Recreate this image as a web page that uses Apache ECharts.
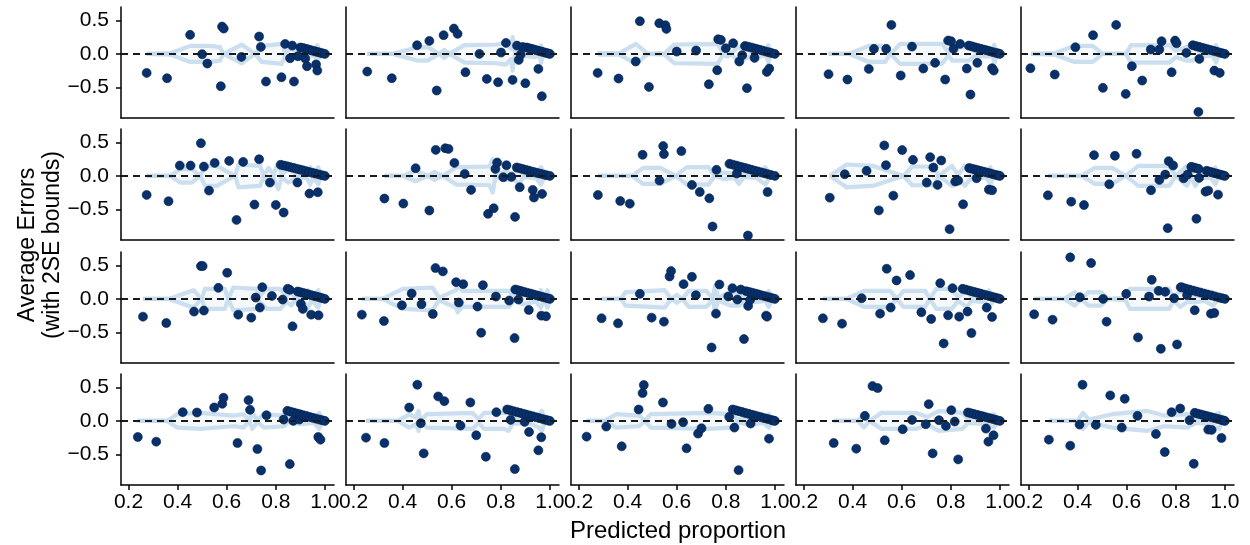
<!DOCTYPE html>
<html>
<head>
<meta charset="utf-8">
<script src="https://cdn.jsdelivr.net/npm/echarts@6/dist/echarts.min.js"></script>
<style>
html,body{margin:0;padding:0;background:#fff;}
#chart{width:1250px;height:545px;}
</style>
</head>
<body>
<div id="chart"></div>
<script>
// ---------------- DATA ----------------
const xTicks = [0.2, 0.4, 0.6, 0.8, 1.0];
const yTicks = [-0.5, 0.0, 0.5];
const xTitle = 'Predicted proportion';
const yTitle1 = 'Average Errors';
const yTitle2 = '(with 2SE bounds)';

// binned average errors per panel: [predicted proportion, average error]
const pts00 = [[0.274,-0.284],[0.357,-0.363],[0.451,0.284],[0.5,-0.005],[0.521,-0.144],[0.576,-0.483],[0.581,0.408],[0.588,0.378],[0.66,-0.045],[0.732,0.259],[0.739,0.104],[0.76,-0.413],[0.823,-0.348],[0.838,0.149],[0.858,-0.065],[0.867,0.124],[0.874,-0.413],[0.89,-0.035],[0.92,-0.07],[0.927,-0.184],[0.964,-0.159],[0.969,-0.249],[0.9,0.095],[0.91,0.088],[0.92,0.078],[0.93,0.068],[0.94,0.058],[0.95,0.048],[0.96,0.038],[0.97,0.028],[0.98,0.018],[0.99,0.008],[1.0,0.0]];
const pts01 = [[0.256,-0.264],[0.356,-0.363],[0.459,0.129],[0.509,0.194],[0.539,-0.547],[0.567,0.279],[0.609,0.378],[0.624,0.299],[0.656,-0.274],[0.713,0.0],[0.743,-0.373],[0.789,-0.423],[0.801,0.02],[0.821,0.164],[0.848,-0.388],[0.866,0.124],[0.873,-0.09],[0.881,-0.01],[0.889,0.104],[0.9,-0.438],[0.953,-0.224],[0.967,-0.632],[0.905,0.095],[0.915,0.085],[0.925,0.075],[0.935,0.065],[0.945,0.055],[0.955,0.045],[0.965,0.035],[0.975,0.025],[0.985,0.015],[0.993,0.007],[1.0,0.0]];
const pts02 = [[0.278,-0.284],[0.363,-0.368],[0.433,-0.114],[0.45,0.488],[0.487,-0.493],[0.529,0.458],[0.554,0.428],[0.558,0.373],[0.6,0.035],[0.679,0.05],[0.731,-0.453],[0.765,-0.244],[0.769,0.219],[0.78,0.209],[0.8,0.085],[0.83,0.159],[0.855,-0.114],[0.867,-0.02],[0.886,-0.512],[0.917,-0.06],[0.967,-0.269],[0.977,-0.219],[0.878,0.118],[0.89,0.108],[0.902,0.097],[0.914,0.085],[0.926,0.073],[0.938,0.061],[0.95,0.049],[0.962,0.037],[0.974,0.025],[0.986,0.013],[1.0,0.0]];
const pts03 = [[0.302,-0.303],[0.379,-0.383],[0.466,-0.224],[0.487,0.075],[0.537,0.075],[0.558,0.433],[0.596,-0.323],[0.642,0.109],[0.688,-0.219],[0.736,-0.134],[0.777,-0.383],[0.789,0.199],[0.801,0.189],[0.811,0.075],[0.838,0.149],[0.865,-0.219],[0.88,-0.607],[0.908,-0.134],[0.968,-0.214],[0.975,-0.249],[0.873,0.124],[0.885,0.113],[0.897,0.101],[0.909,0.089],[0.921,0.077],[0.933,0.066],[0.945,0.054],[0.957,0.042],[0.969,0.03],[0.981,0.018],[0.992,0.008],[1.0,0.0]];
const pts04 = [[0.208,-0.214],[0.307,-0.308],[0.391,0.1],[0.463,0.279],[0.503,-0.507],[0.557,0.433],[0.596,-0.597],[0.621,-0.184],[0.663,-0.398],[0.698,0.065],[0.733,0.065],[0.742,0.189],[0.783,-0.274],[0.797,0.199],[0.803,0.159],[0.843,0.015],[0.896,-0.075],[0.892,-0.866],[0.957,-0.249],[0.979,-0.284],[0.869,0.13],[0.881,0.118],[0.893,0.106],[0.905,0.094],[0.917,0.082],[0.929,0.07],[0.941,0.058],[0.953,0.046],[0.965,0.034],[0.977,0.022],[0.989,0.01],[1.0,0.0]];
const pts10 = [[0.274,-0.284],[0.363,-0.378],[0.409,0.154],[0.453,0.154],[0.495,0.488],[0.507,0.139],[0.528,-0.219],[0.551,0.194],[0.61,0.224],[0.64,-0.657],[0.667,0.209],[0.713,-0.428],[0.732,0.249],[0.776,-0.1],[0.8,-0.433],[0.832,-0.547],[0.888,-0.1],[0.937,-0.264],[0.971,-0.244],[0.82,0.165],[0.832,0.155],[0.845,0.145],[0.858,0.132],[0.871,0.12],[0.884,0.108],[0.897,0.096],[0.91,0.083],[0.923,0.071],[0.936,0.058],[0.949,0.046],[0.962,0.034],[0.975,0.022],[0.988,0.01],[1.0,0.0]];
const pts11 = [[0.326,-0.338],[0.403,-0.413],[0.453,0.114],[0.509,-0.517],[0.535,0.388],[0.574,0.413],[0.587,0.403],[0.611,0.194],[0.653,0.03],[0.679,-0.209],[0.748,-0.567],[0.771,-0.483],[0.778,0.104],[0.785,0.199],[0.81,-0.02],[0.823,0.159],[0.843,-0.015],[0.858,-0.612],[0.877,-0.169],[0.93,-0.209],[0.935,-0.323],[0.968,-0.269],[0.865,0.125],[0.877,0.113],[0.889,0.102],[0.901,0.09],[0.913,0.079],[0.925,0.067],[0.937,0.056],[0.949,0.044],[0.961,0.033],[0.973,0.022],[0.986,0.01],[1.0,0.0]];
const pts12 = [[0.279,-0.285],[0.37,-0.375],[0.409,-0.415],[0.461,0.315],[0.53,-0.07],[0.545,0.445],[0.548,0.325],[0.619,0.37],[0.662,-0.135],[0.694,-0.24],[0.733,-0.335],[0.746,-0.755],[0.762,0.09],[0.845,0.035],[0.89,-0.89],[0.97,-0.24],[0.815,0.18],[0.828,0.168],[0.841,0.155],[0.854,0.142],[0.867,0.129],[0.88,0.116],[0.893,0.103],[0.906,0.09],[0.919,0.077],[0.932,0.064],[0.945,0.051],[0.958,0.038],[0.971,0.026],[0.984,0.013],[1.0,0.0]];
const pts13 = [[0.307,-0.325],[0.368,0.025],[0.457,0.075],[0.507,-0.515],[0.529,0.455],[0.536,0.16],[0.566,-0.295],[0.602,0.385],[0.646,0.24],[0.702,-0.1],[0.716,0.28],[0.729,0.125],[0.746,-0.135],[0.761,0.23],[0.795,-0.795],[0.818,-0.085],[0.83,-0.07],[0.85,-0.425],[0.905,-0.035],[0.955,-0.205],[0.968,-0.215],[0.875,0.118],[0.887,0.107],[0.899,0.095],[0.911,0.084],[0.923,0.072],[0.935,0.061],[0.947,0.049],[0.959,0.038],[0.971,0.026],[0.983,0.015],[0.993,0.006],[1.0,0.0]];
const pts14 = [[0.279,-0.29],[0.374,-0.385],[0.426,-0.435],[0.467,0.31],[0.529,-0.125],[0.552,0.3],[0.64,0.33],[0.699,-0.215],[0.733,-0.06],[0.757,0.02],[0.767,-0.78],[0.771,0.22],[0.789,0.155],[0.832,-0.035],[0.848,0.02],[0.884,-0.64],[0.895,-0.03],[0.921,-0.235],[0.932,-0.22],[0.972,-0.28],[0.863,0.135],[0.873,0.125],[0.883,0.115],[0.893,0.105],[0.925,0.075],[0.935,0.065],[0.945,0.055],[0.955,0.045],[0.965,0.035],[0.975,0.025],[0.985,0.015],[0.993,0.007],[1.0,0.0]];
const pts20 = [[0.259,-0.265],[0.354,-0.36],[0.467,-0.19],[0.495,0.49],[0.502,0.49],[0.507,-0.175],[0.566,0.165],[0.602,0.39],[0.647,-0.235],[0.7,-0.28],[0.718,0.02],[0.735,-0.13],[0.745,0.175],[0.784,0.045],[0.828,-0.01],[0.848,0.15],[0.857,0.135],[0.868,-0.41],[0.902,-0.075],[0.91,-0.15],[0.944,-0.235],[0.974,-0.245],[0.889,0.11],[0.9,0.1],[0.911,0.089],[0.922,0.078],[0.933,0.067],[0.944,0.056],[0.955,0.045],[0.966,0.034],[0.977,0.023],[0.988,0.012],[1.0,0.0]];
const pts21 = [[0.234,-0.235],[0.324,-0.33],[0.397,-0.095],[0.437,0.08],[0.477,-0.08],[0.523,-0.225],[0.534,0.46],[0.564,0.41],[0.618,0.25],[0.629,-0.055],[0.647,0.22],[0.705,-0.115],[0.72,-0.505],[0.727,0.205],[0.78,0.035],[0.834,-0.025],[0.856,-0.585],[0.872,-0.01],[0.914,-0.165],[0.965,-0.25],[0.984,-0.26],[0.859,0.14],[0.871,0.128],[0.883,0.116],[0.895,0.104],[0.907,0.092],[0.919,0.08],[0.931,0.068],[0.943,0.056],[0.955,0.044],[0.967,0.032],[0.979,0.02],[0.99,0.009],[1.0,0.0]];
const pts22 = [[0.294,-0.29],[0.361,-0.365],[0.45,0.075],[0.498,-0.28],[0.548,-0.34],[0.571,0.335],[0.577,0.415],[0.628,0.22],[0.662,0.33],[0.678,0.055],[0.742,-0.725],[0.76,-0.22],[0.774,0.215],[0.81,0.035],[0.827,0.16],[0.847,-0.01],[0.861,0.14],[0.874,-0.6],[0.891,-0.105],[0.899,-0.015],[0.964,-0.25],[0.968,-0.265],[0.883,0.115],[0.895,0.104],[0.907,0.092],[0.919,0.08],[0.931,0.068],[0.943,0.056],[0.955,0.045],[0.967,0.033],[0.979,0.021],[0.99,0.01],[1.0,0.0]];
const pts23 = [[0.279,-0.29],[0.357,-0.37],[0.437,0.01],[0.512,-0.22],[0.539,0.45],[0.555,-0.13],[0.579,0.275],[0.634,0.355],[0.68,-0.2],[0.72,-0.3],[0.757,0.235],[0.771,-0.665],[0.789,-0.245],[0.807,0.16],[0.834,-0.265],[0.868,-0.19],[0.884,-0.51],[0.946,-0.13],[0.968,-0.27],[0.848,0.15],[0.86,0.139],[0.872,0.127],[0.884,0.115],[0.896,0.103],[0.908,0.091],[0.92,0.079],[0.932,0.067],[0.944,0.055],[0.956,0.043],[0.968,0.031],[0.98,0.019],[0.991,0.008],[1.0,0.0]];
const pts24 = [[0.223,-0.23],[0.298,-0.31],[0.37,0.62],[0.409,0.025],[0.455,0.535],[0.504,0.0],[0.518,-0.34],[0.598,0.075],[0.646,-0.575],[0.691,0.035],[0.702,0.285],[0.73,0.12],[0.739,-0.745],[0.757,0.105],[0.793,0.01],[0.805,-0.68],[0.846,0.055],[0.877,-0.17],[0.943,-0.22],[0.957,-0.21],[0.82,0.175],[0.826,0.17],[0.84,0.155],[0.855,0.14],[0.87,0.125],[0.885,0.11],[0.9,0.095],[0.915,0.08],[0.93,0.066],[0.945,0.051],[0.96,0.037],[0.975,0.022],[0.988,0.01],[1.0,0.0]];
const pts30 = [[0.238,-0.24],[0.313,-0.31],[0.421,0.13],[0.479,0.125],[0.549,0.2],[0.582,0.255],[0.587,0.345],[0.644,-0.33],[0.689,0.31],[0.695,0.165],[0.725,-0.42],[0.74,-0.74],[0.762,0.085],[0.832,0.02],[0.857,-0.645],[0.871,0.0],[0.896,0.02],[0.973,-0.24],[0.982,-0.28],[0.847,0.15],[0.86,0.137],[0.873,0.124],[0.886,0.111],[0.899,0.098],[0.912,0.085],[0.925,0.072],[0.938,0.059],[0.951,0.046],[0.964,0.033],[0.977,0.02],[0.989,0.009],[1.0,0.0]];
const pts31 = [[0.251,-0.25],[0.326,-0.33],[0.427,0.2],[0.46,0.54],[0.474,-0.035],[0.486,-0.485],[0.545,0.365],[0.57,0.295],[0.636,-0.07],[0.676,0.275],[0.7,-0.215],[0.739,-0.535],[0.782,0.13],[0.84,0.015],[0.857,-0.72],[0.897,-0.015],[0.915,-0.165],[0.953,-0.44],[0.965,-0.245],[0.826,0.17],[0.839,0.158],[0.852,0.145],[0.865,0.132],[0.878,0.12],[0.891,0.107],[0.904,0.094],[0.917,0.081],[0.93,0.068],[0.943,0.055],[0.956,0.042],[0.969,0.03],[0.982,0.017],[0.992,0.007],[1.0,0.0]];
const pts32 = [[0.233,-0.235],[0.313,-0.085],[0.376,-0.38],[0.445,0.17],[0.461,0.415],[0.466,0.535],[0.544,0.275],[0.579,-0.045],[0.626,-0.02],[0.64,-0.41],[0.687,-0.19],[0.701,-0.11],[0.729,0.18],[0.814,0.06],[0.835,-0.1],[0.852,-0.735],[0.901,-0.04],[0.976,-0.265],[0.828,0.17],[0.841,0.157],[0.854,0.144],[0.867,0.131],[0.88,0.118],[0.893,0.105],[0.906,0.092],[0.919,0.079],[0.932,0.066],[0.945,0.053],[0.958,0.04],[0.971,0.028],[0.984,0.015],[0.993,0.006],[1.0,0.0]];
const pts33 = [[0.323,-0.33],[0.415,-0.415],[0.45,0.075],[0.481,0.52],[0.502,0.49],[0.531,-0.29],[0.604,-0.125],[0.642,0.015],[0.698,-0.05],[0.71,0.25],[0.726,-0.485],[0.752,0.01],[0.78,-0.075],[0.802,0.16],[0.816,-0.01],[0.83,-0.575],[0.943,-0.115],[0.953,-0.31],[0.974,-0.215],[0.87,0.125],[0.882,0.114],[0.894,0.102],[0.906,0.091],[0.918,0.079],[0.93,0.068],[0.942,0.056],[0.954,0.045],[0.966,0.033],[0.978,0.021],[0.989,0.01],[1.0,0.0]];
const pts34 = [[0.283,-0.28],[0.37,-0.37],[0.408,-0.055],[0.42,0.54],[0.474,-0.06],[0.533,0.38],[0.58,-0.1],[0.592,0.33],[0.644,0.075],[0.719,-0.195],[0.755,-0.465],[0.783,0.13],[0.818,0.185],[0.856,0.01],[0.873,-0.64],[0.932,-0.13],[0.946,-0.135],[0.986,-0.255],[0.877,0.12],[0.889,0.108],[0.901,0.097],[0.913,0.085],[0.925,0.073],[0.937,0.062],[0.949,0.05],[0.961,0.038],[0.973,0.027],[0.985,0.015],[0.993,0.007],[1.0,0.0]];

// 2SE bound half-widths per panel: [predicted proportion, 2*SE]
const band00 = [[0.274,0],[0.37,0.01],[0.451,0.12],[0.532,0.12],[0.573,0.1],[0.587,0],[0.661,0.14],[0.715,0],[0.742,0.12],[0.824,0.15],[0.838,0.02],[0.865,0.08],[0.885,0.02],[0.912,0.06],[0.94,0.02],[0.96,0.04],[0.969,0.13],[0.98,0.02],[1.0,0.01]];
const band01 = [[0.256,0],[0.36,0],[0.459,0.1],[0.502,0.1],[0.55,0],[0.57,0.06],[0.59,0],[0.652,0.13],[0.78,0.14],[0.821,0.16],[0.841,0.08],[0.848,0.25],[0.857,0.02],[0.882,0.06],[0.902,0.03],[0.937,0.05],[0.957,0.02],[0.964,0.13],[0.973,0.02],[1.0,0.01]];
const band02 = [[0.278,0.01],[0.366,0.01],[0.434,0.15],[0.482,0],[0.55,0.01],[0.59,0.14],[0.767,0.15],[0.787,0.02],[0.808,0.04],[0.821,0],[0.848,0.1],[0.876,0.08],[0.903,0.03],[0.944,0.04],[0.964,0.02],[0.973,0.13],[0.984,0.02],[1.0,0.01]];
const band03 = [[0.302,0],[0.384,0],[0.466,0.12],[0.533,0.12],[0.554,0],[0.594,0.15],[0.764,0.15],[0.791,0.02],[0.805,0.1],[0.873,0.1],[0.9,0.03],[0.954,0.04],[0.971,0.02],[0.977,0.14],[0.987,0.02],[1.0,0.01]];
const band04 = [[0.21,0],[0.305,0.01],[0.387,0.12],[0.462,0.12],[0.502,0],[0.597,0],[0.617,0.13],[0.774,0.13],[0.801,0.05],[0.842,0.1],[0.869,0.1],[0.896,0.03],[0.95,0.03],[0.964,0.13],[0.975,0.02],[1.0,0.01]];
const band10 = [[0.274,0],[0.37,0],[0.41,0.1],[0.458,0.1],[0.492,0],[0.512,0.15],[0.56,0.15],[0.634,0],[0.648,0.17],[0.736,0.15],[0.752,0],[0.77,0.12],[0.79,0.02],[0.81,0.2],[0.824,0.02],[0.851,0.1],[0.885,0.03],[0.926,0.03],[0.94,0.13],[0.953,0.02],[0.973,0.13],[0.983,0.01],[1.0,0.01]];
const band11 = [[0.326,0],[0.4,0],[0.454,0.08],[0.502,0],[0.53,0.06],[0.563,0],[0.618,0.13],[0.753,0.14],[0.767,0.25],[0.778,0.02],[0.822,0.06],[0.849,0.04],[0.876,0.13],[0.89,0.02],[0.943,0.03],[0.964,0.13],[0.978,0.02],[1.0,0.01]];
const band12 = [[0.279,0],[0.418,0],[0.463,0.12],[0.534,0.12],[0.596,0],[0.641,0.13],[0.73,0.13],[0.756,0],[0.792,0.05],[0.836,0.03],[0.854,0.12],[0.872,0.02],[0.925,0.03],[0.961,0.13],[0.979,0.02],[1.0,0.01]];
const band13 = [[0.307,0],[0.375,0.17],[0.482,0.15],[0.607,0],[0.643,0.14],[0.732,0.14],[0.75,0],[0.804,0.15],[0.83,0.02],[0.857,0.15],[0.884,0.03],[0.946,0.03],[0.961,0.13],[0.973,0.02],[1.0,0.01]];
const band14 = [[0.279,0],[0.416,0],[0.47,0.12],[0.541,0.12],[0.595,0],[0.648,0.15],[0.773,0.15],[0.8,0],[0.845,0.15],[0.862,0.02],[0.88,0.15],[0.898,0.03],[0.943,0.03],[0.961,0.13],[0.973,0.02],[1.0,0.01]];
const band20 = [[0.259,0],[0.363,0],[0.465,0.13],[0.498,0],[0.511,0.15],[0.593,0.15],[0.606,0],[0.627,0.17],[0.722,0.15],[0.735,0.05],[0.762,0.15],[0.817,0.15],[0.844,0.05],[0.864,0.1],[0.878,0.02],[0.912,0.05],[0.932,0.13],[0.946,0.02],[0.973,0.13],[0.982,0.01],[1.0,0.01]];
const band21 = [[0.234,0],[0.318,0],[0.4,0.15],[0.522,0.17],[0.549,0.02],[0.617,0.13],[0.624,0.2],[0.644,0.12],[0.834,0.12],[0.855,0.02],[0.889,0.08],[0.943,0.04],[0.963,0.13],[0.977,0.02],[0.99,0.13],[1.0,0.01]];
const band22 = [[0.294,0],[0.374,0],[0.391,0.1],[0.552,0.13],[0.578,0],[0.601,0.06],[0.623,0],[0.649,0.12],[0.721,0.12],[0.747,0],[0.756,0.2],[0.769,0.02],[0.818,0.1],[0.854,0.1],[0.881,0.02],[0.916,0.05],[0.961,0.03],[0.975,0.12],[0.988,0.02],[1.0,0.01]];
const band23 = [[0.279,0],[0.375,0],[0.446,0.12],[0.554,0.12],[0.58,0],[0.607,0.12],[0.696,0.12],[0.714,0],[0.741,0.15],[0.804,0.15],[0.83,0.03],[0.866,0.12],[0.884,0.03],[0.938,0.05],[0.955,0.13],[0.973,0.02],[1.0,0.01]];
const band24 = [[0.223,0],[0.345,0],[0.389,0.1],[0.416,0],[0.443,0.1],[0.496,0.1],[0.523,0],[0.595,0.02],[0.613,0.15],[0.773,0.15],[0.791,0.02],[0.818,0.12],[0.845,0.05],[0.88,0.05],[0.916,0.03],[0.952,0.1],[0.97,0.02],[1.0,0.01]];
const band30 = [[0.238,0],[0.357,0],[0.398,0.1],[0.493,0.12],[0.629,0.08],[0.67,0.1],[0.691,0],[0.704,0.12],[0.725,0.02],[0.752,0.1],[0.834,0.08],[0.847,0.02],[0.902,0.05],[0.956,0.03],[0.977,0.12],[0.99,0.02],[1.0,0.01]];
const band31 = [[0.251,0],[0.38,0],[0.427,0.1],[0.455,0.05],[0.465,0.15],[0.474,0],[0.498,0.1],[0.685,0.12],[0.709,0.03],[0.732,0.12],[0.815,0.12],[0.831,0.15],[0.85,0.04],[0.92,0.04],[0.955,0.1],[0.967,0.15],[0.979,0.02],[1.0,0.01]];
const band32 = [[0.233,0],[0.306,0],[0.353,0.1],[0.447,0.08],[0.471,0],[0.494,0.1],[0.729,0.12],[0.824,0.1],[0.847,0.02],[0.894,0.06],[0.953,0.03],[0.976,0.1],[0.988,0.02],[1.0,0.01]];
const band33 = [[0.323,0],[0.422,0],[0.446,0.1],[0.469,0],[0.517,0.12],[0.658,0.12],[0.705,0.06],[0.752,0.15],[0.847,0.12],[0.87,0.03],[0.941,0.05],[0.976,0.1],[0.988,0.02],[1.0,0.01]];
const band34 = [[0.283,0],[0.399,0],[0.422,0.12],[0.446,0.02],[0.54,0.1],[0.682,0.15],[0.752,0.08],[0.847,0.1],[0.882,0.03],[0.941,0.05],[0.976,0.12],[0.988,0.02],[1.0,0.01]];

const PTS = [[pts00,pts01,pts02,pts03,pts04],[pts10,pts11,pts12,pts13,pts14],[pts20,pts21,pts22,pts23,pts24],[pts30,pts31,pts32,pts33,pts34]];
const BANDS = [[band00,band01,band02,band03,band04],[band10,band11,band12,band13,band14],[band20,band21,band22,band23,band24],[band30,band31,band32,band33,band34]];

// ---------------- LAYOUT / STYLE ----------------
const X_MIN = 0.1695, X_MAX = 1.037;
const Y_MIN = -0.957, Y_MAX = 0.70;
const colLeft = [121, 346, 571, 796, 1021];
const rowTop = [7, 129, 252, 374];
const PW = 213, PH = 111;
const FONT = 'Liberation Sans, Arial, Helvetica, sans-serif';
const DOT = '#08306b';
const BAND_LINE = 'rgba(194,217,236,0.85)';
const BAND_FILL = 'rgba(214,229,243,0.35)';

const grids = [], xAxes = [], yAxes = [], series = [];
for (let r = 0; r < 4; r++) {
  for (let c = 0; c < 5; c++) {
    const i = r * 5 + c;
    grids.push({ left: colLeft[c], top: rowTop[r], width: PW, height: PH, containLabel: false });
    xAxes.push({
      gridIndex: i, type: 'value', min: X_MIN, max: X_MAX,
      axisLine: { show: true, onZero: false, lineStyle: { color: '#000', width: 1.5 } },
      axisTick: { show: r === 3, customValues: xTicks, length: 5, lineStyle: { color: '#000', width: 1.5 } },
      axisLabel: { show: r === 3, customValues: xTicks, formatter: v => v.toFixed(1), fontSize: 21, fontFamily: FONT, color: '#000', margin: 7 },
      splitLine: { show: false }
    });
    yAxes.push({
      gridIndex: i, type: 'value', min: Y_MIN, max: Y_MAX,
      axisLine: { show: true, onZero: false, lineStyle: { color: '#000', width: 1.5 } },
      axisTick: { show: c === 0, customValues: yTicks, length: 5, lineStyle: { color: '#000', width: 1.5 } },
      axisLabel: { show: c === 0, customValues: yTicks, formatter: v => (v < 0 ? '\u2212' + Math.abs(v).toFixed(1) : v.toFixed(1)), fontSize: 21, fontFamily: FONT, color: '#000', margin: 12 },
      splitLine: { show: false }
    });
    // zero reference line
    series.push({
      type: 'line', xAxisIndex: i, yAxisIndex: i, data: [], z: 1, silent: true,
      markLine: { silent: true, symbol: ['none', 'none'], label: { show: false }, animation: false,
        lineStyle: { color: '#1a1a1a', width: 1.8, type: [7, 5] }, data: [{ yAxis: 0 }] }
    });
    const band = BANDS[r][c];
    const bandStyle = {
      type: 'line', xAxisIndex: i, yAxisIndex: i, z: 2, silent: true, showSymbol: false, symbol: 'none',
      lineStyle: { color: BAND_LINE, width: 4.2, join: 'round' },
      areaStyle: { color: BAND_FILL, origin: 0 }
    };
    series.push(Object.assign({}, bandStyle, { data: band.map(d => [d[0], d[1]]) }));
    series.push(Object.assign({}, bandStyle, { data: band.map(d => [d[0], -d[1]]) }));
    series.push({
      type: 'scatter', xAxisIndex: i, yAxisIndex: i, z: 3, data: PTS[r][c],
      symbolSize: 9,
      itemStyle: { color: DOT, borderColor: '#03204a', borderWidth: 0.6, opacity: 1 }
    });
  }
}

const chart = echarts.init(document.getElementById('chart'), null, { renderer: 'canvas' });
chart.setOption({
  animation: false,
  backgroundColor: '#fff',
  grid: grids, xAxis: xAxes, yAxis: yAxes, series: series,
  graphic: [
    { type: 'text', x: 678, y: 531, style: { text: xTitle, font: '24px ' + FONT, fill: '#000', textAlign: 'center', textVerticalAlign: 'middle' } },
    { type: 'text', x: 28, y: 245, rotation: Math.PI / 2, style: { text: yTitle1, font: '23px ' + FONT, fill: '#000', textAlign: 'center', textVerticalAlign: 'middle' } },
    { type: 'text', x: 53, y: 245, rotation: Math.PI / 2, style: { text: yTitle2, font: '23px ' + FONT, fill: '#000', textAlign: 'center', textVerticalAlign: 'middle' } }
  ]
});
</script>
</body>
</html>
